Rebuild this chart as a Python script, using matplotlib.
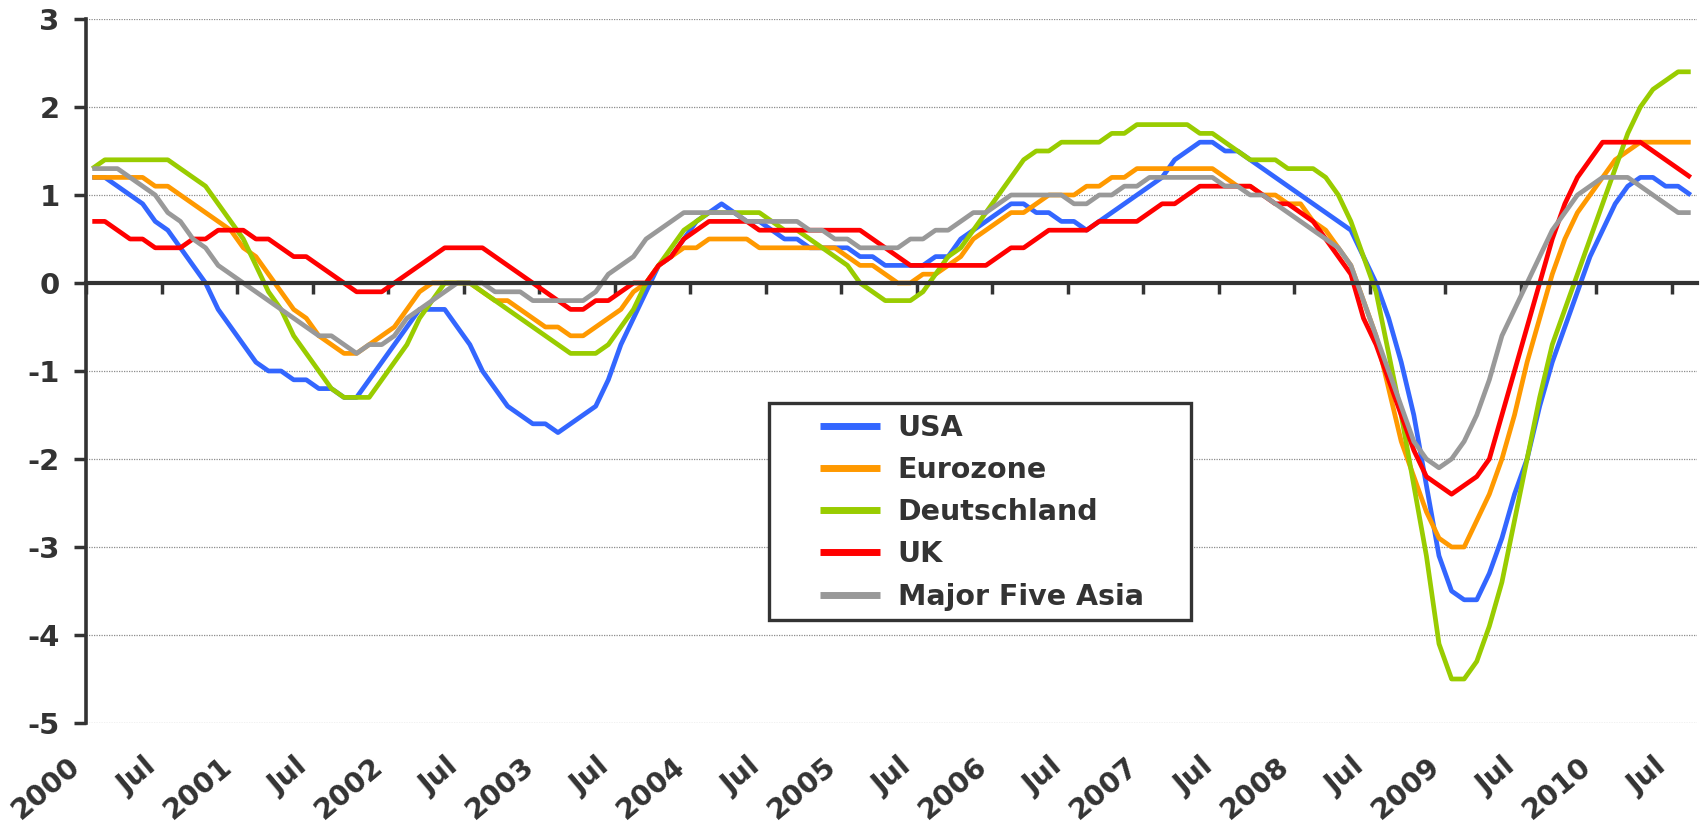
import matplotlib
matplotlib.use('Agg')
import matplotlib.pyplot as plt
from matplotlib.patches import Rectangle
import numpy as np

# Monthly data, Jan 2000 .. Aug 2010 (128 months)
months = np.arange(128)

usa = [1.2, 1.2, 1.1, 1.0, 0.9, 0.7, 0.6, 0.4, 0.2, 0.0,
       -0.3, -0.5, -0.7, -0.9, -1.0, -1.0, -1.1, -1.1, -1.2, -1.2,
       -1.3, -1.3, -1.1, -0.9, -0.7, -0.5, -0.3, -0.3, -0.3, -0.5,
       -0.7, -1.0, -1.2, -1.4, -1.5, -1.6, -1.6, -1.7, -1.6, -1.5,
       -1.4, -1.1, -0.7, -0.4, -0.1, 0.2, 0.3, 0.5, 0.7, 0.8,
       0.9, 0.8, 0.7, 0.7, 0.6, 0.5, 0.5, 0.4, 0.4, 0.4,
       0.4, 0.3, 0.3, 0.2, 0.2, 0.2, 0.2, 0.3, 0.3, 0.5,
       0.6, 0.7, 0.8, 0.9, 0.9, 0.8, 0.8, 0.7, 0.7, 0.6,
       0.7, 0.8, 0.9, 1.0, 1.1, 1.2, 1.4, 1.5, 1.6, 1.6,
       1.5, 1.5, 1.4, 1.3, 1.2, 1.1, 1.0, 0.9, 0.8, 0.7,
       0.6, 0.3, 0.0, -0.4, -0.9, -1.5, -2.3, -3.1, -3.5, -3.6,
       -3.6, -3.3, -2.9, -2.4, -2.0, -1.4, -0.9, -0.5, -0.1, 0.3,
       0.6, 0.9, 1.1, 1.2, 1.2, 1.1, 1.1, 1.0]

eurozone = [1.2, 1.2, 1.2, 1.2, 1.2, 1.1, 1.1, 1.0, 0.9, 0.8,
            0.7, 0.6, 0.4, 0.3, 0.1, -0.1, -0.3, -0.4, -0.6, -0.7,
            -0.8, -0.8, -0.7, -0.6, -0.5, -0.3, -0.1, 0.0, 0.0, 0.0,
            0.0, -0.1, -0.2, -0.2, -0.3, -0.4, -0.5, -0.5, -0.6, -0.6,
            -0.5, -0.4, -0.3, -0.1, 0.0, 0.2, 0.3, 0.4, 0.4, 0.5,
            0.5, 0.5, 0.5, 0.4, 0.4, 0.4, 0.4, 0.4, 0.4, 0.4,
            0.3, 0.2, 0.2, 0.1, 0.0, 0.0, 0.1, 0.1, 0.2, 0.3,
            0.5, 0.6, 0.7, 0.8, 0.8, 0.9, 1.0, 1.0, 1.0, 1.1,
            1.1, 1.2, 1.2, 1.3, 1.3, 1.3, 1.3, 1.3, 1.3, 1.3,
            1.2, 1.1, 1.1, 1.0, 1.0, 0.9, 0.9, 0.7, 0.6, 0.4,
            0.2, -0.2, -0.6, -1.2, -1.8, -2.2, -2.6, -2.9, -3.0, -3.0,
            -2.7, -2.4, -2.0, -1.5, -0.9, -0.4, 0.1, 0.5, 0.8, 1.0,
            1.2, 1.4, 1.5, 1.6, 1.6, 1.6, 1.6, 1.6]

deutschland = [1.3, 1.4, 1.4, 1.4, 1.4, 1.4, 1.4, 1.3, 1.2, 1.1,
               0.9, 0.7, 0.5, 0.2, -0.1, -0.3, -0.6, -0.8, -1.0, -1.2,
               -1.3, -1.3, -1.3, -1.1, -0.9, -0.7, -0.4, -0.2, 0.0, 0.0,
               0.0, -0.1, -0.2, -0.3, -0.4, -0.5, -0.6, -0.7, -0.8, -0.8,
               -0.8, -0.7, -0.5, -0.3, 0.0, 0.2, 0.4, 0.6, 0.7, 0.8,
               0.8, 0.8, 0.8, 0.8, 0.7, 0.6, 0.6, 0.5, 0.4, 0.3,
               0.2, 0.0, -0.1, -0.2, -0.2, -0.2, -0.1, 0.1, 0.3, 0.4,
               0.6, 0.8, 1.0, 1.2, 1.4, 1.5, 1.5, 1.6, 1.6, 1.6,
               1.6, 1.7, 1.7, 1.8, 1.8, 1.8, 1.8, 1.8, 1.7, 1.7,
               1.6, 1.5, 1.4, 1.4, 1.4, 1.3, 1.3, 1.3, 1.2, 1.0,
               0.7, 0.3, -0.1, -0.8, -1.5, -2.3, -3.1, -4.1, -4.5, -4.5,
               -4.3, -3.9, -3.4, -2.7, -2.0, -1.3, -0.7, -0.3, 0.1, 0.5,
               0.9, 1.3, 1.7, 2.0, 2.2, 2.3, 2.4, 2.4]

uk = [0.7, 0.7, 0.6, 0.5, 0.5, 0.4, 0.4, 0.4, 0.5, 0.5,
      0.6, 0.6, 0.6, 0.5, 0.5, 0.4, 0.3, 0.3, 0.2, 0.1,
      0.0, -0.1, -0.1, -0.1, 0.0, 0.1, 0.2, 0.3, 0.4, 0.4,
      0.4, 0.4, 0.3, 0.2, 0.1, 0.0, -0.1, -0.2, -0.3, -0.3,
      -0.2, -0.2, -0.1, 0.0, 0.0, 0.2, 0.3, 0.5, 0.6, 0.7,
      0.7, 0.7, 0.7, 0.6, 0.6, 0.6, 0.6, 0.6, 0.6, 0.6,
      0.6, 0.6, 0.5, 0.4, 0.3, 0.2, 0.2, 0.2, 0.2, 0.2,
      0.2, 0.2, 0.3, 0.4, 0.4, 0.5, 0.6, 0.6, 0.6, 0.6,
      0.7, 0.7, 0.7, 0.7, 0.8, 0.9, 0.9, 1.0, 1.1, 1.1,
      1.1, 1.1, 1.1, 1.0, 0.9, 0.9, 0.8, 0.7, 0.5, 0.3,
      0.1, -0.4, -0.7, -1.1, -1.5, -1.9, -2.2, -2.3, -2.4, -2.3,
      -2.2, -2.0, -1.5, -1.0, -0.5, 0.0, 0.5, 0.9, 1.2, 1.4,
      1.6, 1.6, 1.6, 1.6, 1.5, 1.4, 1.3, 1.2]

major_five_asia = [1.3, 1.3, 1.3, 1.2, 1.1, 1.0, 0.8, 0.7, 0.5, 0.4,
                   0.2, 0.1, 0.0, -0.1, -0.2, -0.3, -0.4, -0.5, -0.6, -0.6,
                   -0.7, -0.8, -0.7, -0.7, -0.6, -0.4, -0.3, -0.2, -0.1, 0.0,
                   0.0, 0.0, -0.1, -0.1, -0.1, -0.2, -0.2, -0.2, -0.2, -0.2,
                   -0.1, 0.1, 0.2, 0.3, 0.5, 0.6, 0.7, 0.8, 0.8, 0.8,
                   0.8, 0.8, 0.7, 0.7, 0.7, 0.7, 0.7, 0.6, 0.6, 0.5,
                   0.5, 0.4, 0.4, 0.4, 0.4, 0.5, 0.5, 0.6, 0.6, 0.7,
                   0.8, 0.8, 0.9, 1.0, 1.0, 1.0, 1.0, 1.0, 0.9, 0.9,
                   1.0, 1.0, 1.1, 1.1, 1.2, 1.2, 1.2, 1.2, 1.2, 1.2,
                   1.1, 1.1, 1.0, 1.0, 0.9, 0.8, 0.7, 0.6, 0.5, 0.4,
                   0.2, -0.2, -0.6, -1.0, -1.4, -1.8, -2.0, -2.1, -2.0, -1.8,
                   -1.5, -1.1, -0.6, -0.3, 0.0, 0.3, 0.6, 0.8, 1.0, 1.1,
                   1.2, 1.2, 1.2, 1.1, 1.0, 0.9, 0.8, 0.8]

series_names = ['USA', 'Eurozone', 'Deutschland', 'UK', 'Major Five Asia']
series_values = [usa, eurozone, deutschland, uk, major_five_asia]
series_colors = ['#3366FF', '#FF9900', '#99CC00', '#FF0000', '#999999']

x_tick_labels = ['2000', 'Jul', '2001', 'Jul', '2002', 'Jul', '2003', 'Jul',
                 '2004', 'Jul', '2005', 'Jul', '2006', 'Jul', '2007', 'Jul',
                 '2008', 'Jul', '2009', 'Jul', '2010', 'Jul']
y_tick_values = [3, 2, 1, 0, -1, -2, -3, -4, -5]
y_tick_labels = ['3', '2', '1', '0', '-1', '-2', '-3', '-4', '-5']

TXT = '#333333'
plt.rcParams['font.family'] = ['DejaVu Sans']

W, H = 1702, 826
fig = plt.figure(figsize=(W / 100, H / 100), dpi=100)
ax = fig.add_axes([86 / W, (H - 723) / H, 1611 / W, 704 / H])

for name, vals, col in zip(series_names, series_values, series_colors):
    ax.plot(months, vals, color=col, lw=3.4, label=name,
            solid_capstyle='butt', solid_joinstyle='round', zorder=2)

ax.set_xlim(-0.5, len(months) - 0.5)
ax.set_ylim(-5, 3)

# y axis
ax.set_yticks(y_tick_values, y_tick_labels, fontsize=21, fontweight='bold', color=TXT)
ax.tick_params(axis='y', direction='out', length=9, width=2.5, color=TXT, pad=10)
ax.yaxis.grid(True, linestyle=(0, (1, 1)), color='#8c8c8c', lw=0.9)

for s in ['top', 'right']:
    ax.spines[s].set_visible(False)
ax.spines['left'].set_color(TXT)
ax.spines['left'].set_linewidth(2.6)
ax.spines['bottom'].set_position(('data', 0))
ax.spines['bottom'].set_color(TXT)
ax.spines['bottom'].set_linewidth(3.0)
ax.spines['bottom'].set_zorder(3)

tick_pos = np.arange(0, len(months), 6) - 0.5
ax.set_xticks(tick_pos)
ax.tick_params(axis='x', direction='out', length=8, width=2.5, color=TXT,
               labelbottom=False)

sec = ax.secondary_xaxis('bottom')
sec.set_xticks(tick_pos, labels=x_tick_labels, rotation=40, ha='right',
               fontsize=20.5, fontweight='bold', color=TXT)
sec.tick_params(axis='x', length=0, pad=21)
sec.spines['bottom'].set_visible(False)

# legend box
ax.add_patch(Rectangle((0.424, 0.146), 0.262, 0.3085, transform=ax.transAxes,
                       facecolor='white', edgecolor=TXT, lw=2.4, zorder=4))
leg = ax.legend(loc='upper left', bbox_to_anchor=(0.4469, 0.4597), frameon=False,
                borderpad=0, handlelength=2.1, handletextpad=0.62,
                labelspacing=0.5, prop={'size': 20.5, 'weight': 'bold'})
leg.set_zorder(5)
for t in leg.get_texts():
    t.set_color(TXT)
for h in leg.get_lines():
    h.set_linewidth(5)

fig.savefig('out.png', dpi=100)
